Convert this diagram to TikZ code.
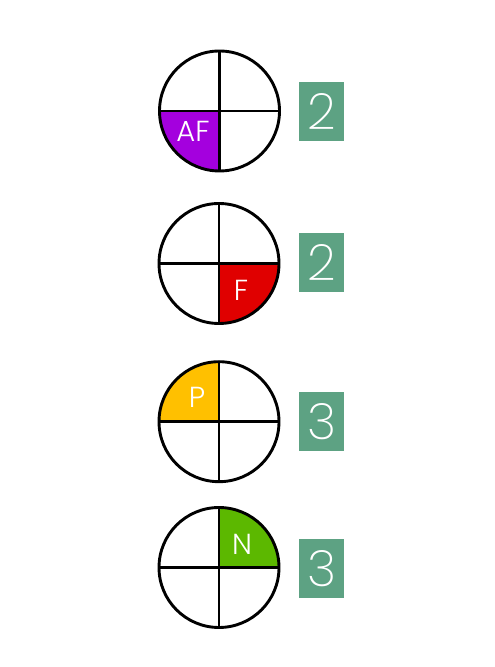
\documentclass[tikz,border=0pt]{standalone}
\usepackage{fontspec}
\setmainfont{Poppins}[UprightFont=* Light]
\newfontfamily\numfont{Poppins}[UprightFont=* ExtraLight]
\definecolor{cpurple}{HTML}{A400DE}
\definecolor{cred}{HTML}{E00000}
\definecolor{cyellow}{HTML}{FFC000}
\definecolor{cgreen}{HTML}{5CB800}
\definecolor{boxgreen}{HTML}{5DA283}
\tikzset{
  wheel/.style={draw=black, line width=2.9pt},
  numbox/.style={fill=boxgreen, minimum width=45pt, minimum height=59pt, inner sep=0pt, text=white, font=\numfont\fontsize{50}{50}\selectfont},
  qlabel/.style={text=white, inner sep=0pt, font=\fontsize{29}{29}\selectfont}
}
\newcommand{\wheelat}[2]{%
  \draw[wheel] (#1,#2) circle (60pt);
  \draw[wheel] (#1-60,#2) -- (#1+60,#2);
  \draw[wheel] (#1,#2-60) -- (#1,#2+60);
}
\begin{document}
\begin{tikzpicture}[x=1pt,y=1pt]
\useasboundingbox (0,0) rectangle (495,667);
% quadrant fills
\fill[cpurple] (219.5,556) -- ++(180:60) arc (180:270:60) -- cycle;
\fill[cred] (219,403.5) -- ++(270:60) arc (270:360:60) -- cycle;
\fill[cyellow] (219,245.3) -- ++(90:60) arc (90:180:60) -- cycle;
\fill[cgreen] (219,99.5) -- ++(0:60) arc (0:90:60) -- cycle;
% wheels
\wheelat{219.5}{556}
\wheelat{219}{403.5}
\wheelat{219}{245.3}
\wheelat{219}{99.5}
% labels
\node[qlabel] (af) at (193,536) {AF};
\node[qlabel] (f) at (241,377) {F};
\node[qlabel] (p) at (197,270) {P};
\node[qlabel] (n) at (242,123) {N};
% number boxes
\node[numbox] (b1) at (321.5,555.5) {2};
\node[numbox] (b2) at (321.5,404.5) {2};
\node[numbox] (b3) at (321.5,245) {3};
\node[numbox] (b4) at (321.5,98.5) {3};
\end{tikzpicture}
\end{document}
